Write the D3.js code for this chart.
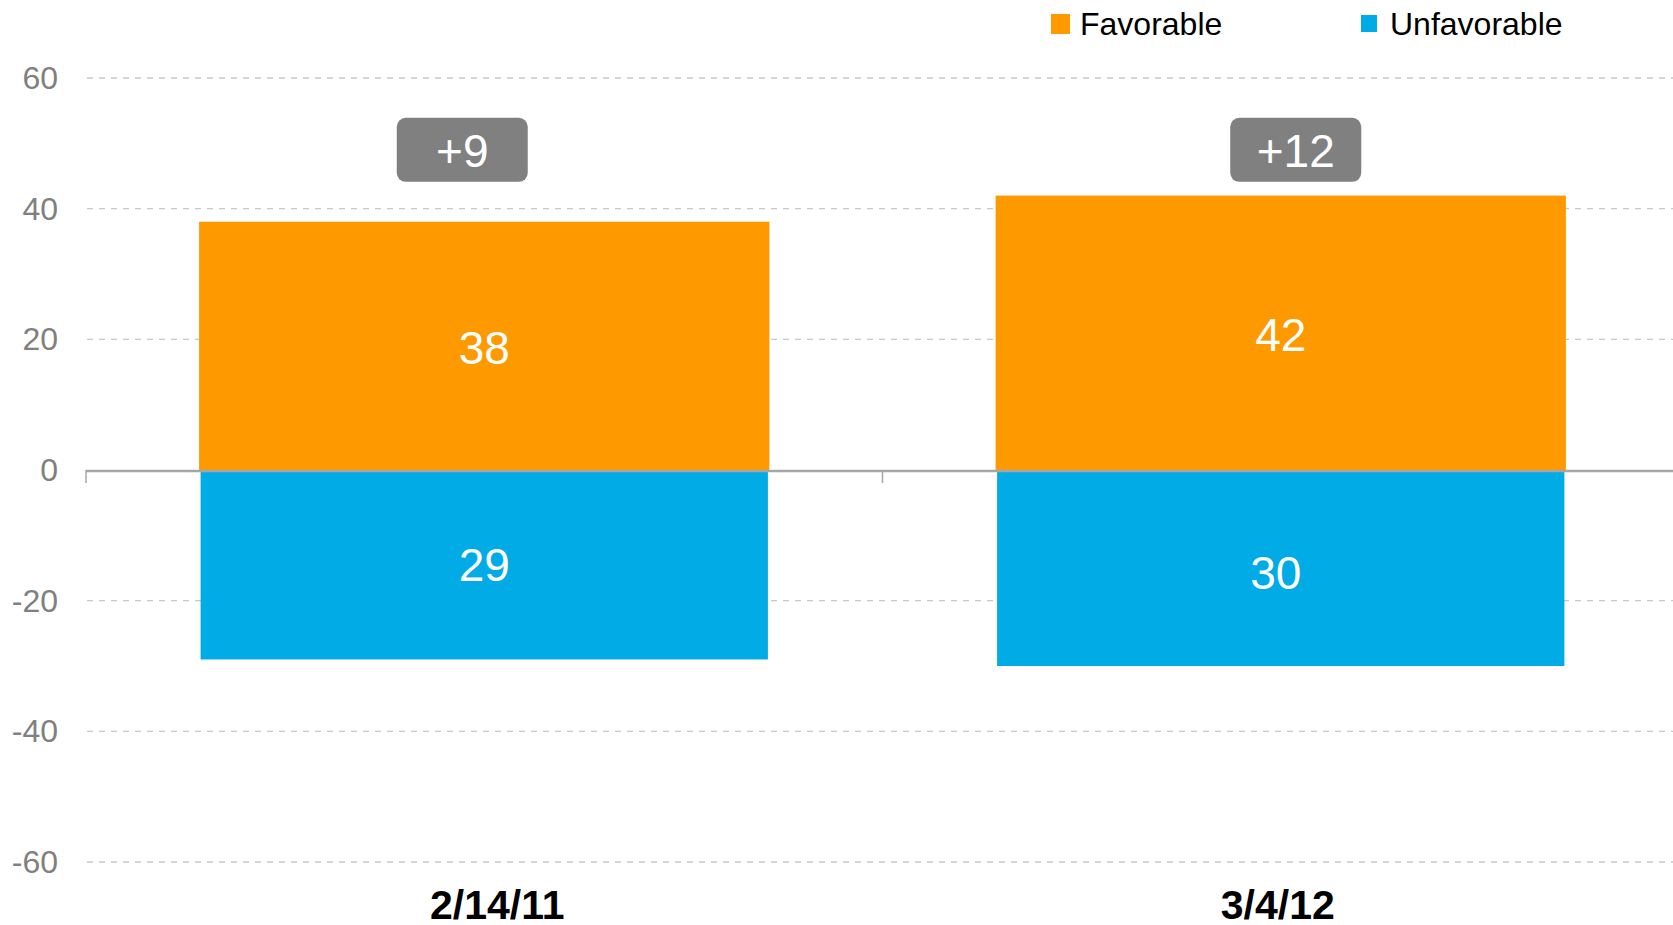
<!DOCTYPE html>
<html>
<head>
<meta charset="utf-8">
<script src="https://cdn.jsdelivr.net/npm/d3@7"></script>
<style>
	html, body { margin: 0; padding: 0; background: #fff; }
	svg { display: block; font-family: Arial, "Liberation Sans", sans-serif; }
</style>
</head>
<body>
<div id="chart"></div>
<script>
// data
const categories = ['2/14/11', '3/4/12'];
const favorable = [38, 42];
const unfavorable = [29, 30];
const netLabels = ['+9', '+12'];
const seriesNames = ['Favorable', 'Unfavorable'];
const yTicks = [-60, -40, -20, 0, 20, 40, 60];

const colors = { favorable: '#ff9900', unfavorable: '#00abe6' };

const width = 1673;
const height = 925;

const svg = d3.select('#chart').append('svg')
	.attr('width', width)
	.attr('height', height);

const x = d3.scaleBand()
	.domain(categories)
	.range([86, 1679])
	.padding(0);

const y = d3.scaleLinear()
	.domain([-60, 60])
	.range([862, 78]);

const barWidth = x.bandwidth() * 0.716;
const center = d => x(d) + x.bandwidth() / 2;

// gridlines (0 is drawn as the axis)
svg.append('g')
	.selectAll('line')
	.data(yTicks.filter(t => t !== 0))
	.join('line')
	.attr('x1', 87)
	.attr('x2', width)
	.attr('y1', d => y(d))
	.attr('y2', d => y(d))
	.attr('stroke', '#c8c8c8')
	.attr('stroke-width', 1.3)
	.attr('stroke-dasharray', '6,6');

// y tick labels
svg.append('g')
	.selectAll('text')
	.data(yTicks)
	.join('text')
	.attr('x', 58)
	.attr('y', d => y(d))
	.attr('text-anchor', 'end')
	.attr('dominant-baseline', 'central')
	.attr('font-size', 32)
	.attr('fill', '#808080')
	.text(d => d);

// bars
const bars = svg.append('g');
bars.selectAll('rect.fav')
	.data(categories)
	.join('rect')
	.attr('class', 'fav')
	.attr('x', d => center(d) - barWidth / 2)
	.attr('width', barWidth)
	.attr('y', (d, i) => y(favorable[i]))
	.attr('height', (d, i) => y(0) - y(favorable[i]))
	.attr('fill', colors.favorable);

bars.selectAll('rect.unfav')
	.data(categories)
	.join('rect')
	.attr('class', 'unfav')
	.attr('x', d => center(d) - barWidth / 2 + 1.5)
	.attr('width', barWidth - 3)
	.attr('y', y(0))
	.attr('height', (d, i) => y(-unfavorable[i]) - y(0))
	.attr('fill', colors.unfavorable);

// zero axis + category tick marks
svg.append('line')
	.attr('x1', 86)
	.attr('x2', width)
	.attr('y1', y(0) + 1)
	.attr('y2', y(0) + 1)
	.attr('stroke', '#a6a6a6')
	.attr('stroke-width', 2.5);

svg.append('g')
	.selectAll('line')
	.data(categories)
	.join('line')
	.attr('x1', d => x(d))
	.attr('x2', d => x(d))
	.attr('y1', y(0))
	.attr('y2', y(0) + 13)
	.attr('stroke', '#a6a6a6')
	.attr('stroke-width', 1.5);

// value labels
svg.append('g')
	.selectAll('text')
	.data(categories)
	.join('text')
	.attr('x', d => center(d))
	.attr('y', (d, i) => (y(favorable[i]) + y(0)) / 2 + 2)
	.attr('text-anchor', 'middle')
	.attr('dominant-baseline', 'central')
	.attr('font-size', 46)
	.attr('fill', '#fff')
	.text((d, i) => favorable[i]);

const unfavShift = [0, -5];
svg.append('g')
	.selectAll('text')
	.data(categories)
	.join('text')
	.attr('x', (d, i) => center(d) + unfavShift[i])
	.attr('y', (d, i) => (y(-unfavorable[i]) + y(0)) / 2 + (i ? 5 : 0))
	.attr('text-anchor', 'middle')
	.attr('dominant-baseline', 'central')
	.attr('font-size', 46)
	.attr('fill', '#fff')
	.text((d, i) => unfavorable[i]);

// net difference boxes above the bars
const boxShift = [-22, 15];
const boxW = 131, boxH = 64;
const boxes = svg.append('g')
	.selectAll('g')
	.data(categories)
	.join('g')
	.attr('transform', (d, i) => 'translate(' + (center(d) + boxShift[i]) + ',' + y(49) + ')');

boxes.append('rect')
	.attr('x', -boxW / 2)
	.attr('y', -boxH / 2)
	.attr('width', boxW)
	.attr('height', boxH)
	.attr('rx', 9)
	.attr('fill', '#808080');

boxes.append('text')
	.attr('text-anchor', 'middle')
	.attr('dominant-baseline', 'central')
	.attr('y', 1)
	.attr('font-size', 46)
	.attr('fill', '#fff')
	.text((d, i) => netLabels[i]);

// category labels (sit right on the bottom edge, as in the source)
const labelShift = [13, -3];
svg.append('g')
	.selectAll('text')
	.data(categories)
	.join('text')
	.attr('x', (d, i) => center(d) + labelShift[i])
	.attr('y', 919)
	.attr('text-anchor', 'middle')
	.attr('font-size', 41)
	.attr('font-weight', 'bold')
	.attr('fill', '#000')
	.text(d => d);

// legend
const legendItems = [
	{ name: seriesNames[0], color: colors.favorable, x: 1051, y: 14, size: 20 },
	{ name: seriesNames[1], color: colors.unfavorable, x: 1361, y: 15, size: 17 }
];
const legend = svg.append('g')
	.selectAll('g')
	.data(legendItems)
	.join('g');

legend.append('rect')
	.attr('x', d => d.x)
	.attr('y', d => d.y)
	.attr('width', d => d.size - 1)
	.attr('height', d => d.size)
	.attr('fill', d => d.color);

legend.append('text')
	.attr('x', d => d.x + 29)
	.attr('y', 35)
	.attr('font-size', 32)
	.attr('fill', '#000')
	.text(d => d.name);
</script>
</body>
</html>
